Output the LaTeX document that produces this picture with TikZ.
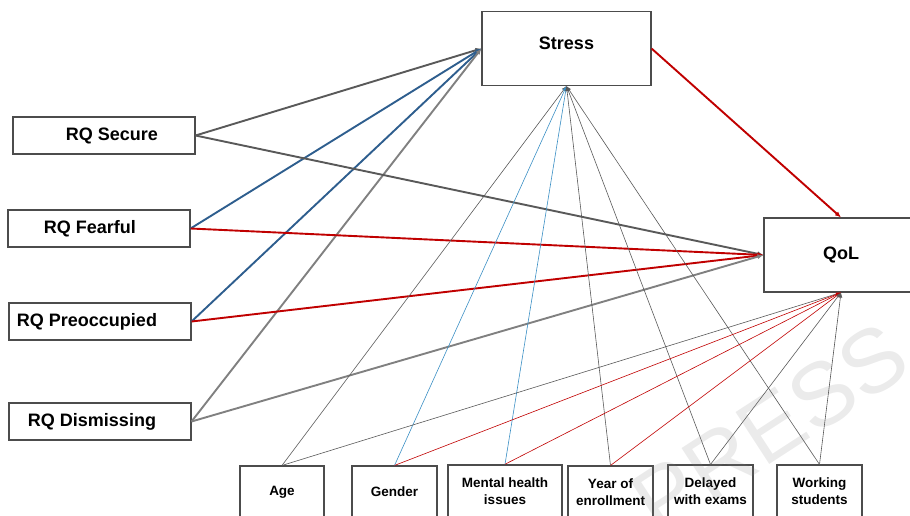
\documentclass[tikz,border=0pt]{standalone}
\usepackage{fontspec}
\setmainfont{Liberation Sans}
\usepackage{xcolor}
\usepackage{tikz}
\usetikzlibrary{arrows.meta, positioning}
\definecolor{pathgray}{HTML}{595959}
\definecolor{pathblue}{HTML}{2E5E8E}
\definecolor{pathred}{HTML}{C00000}
\definecolor{lightblue}{HTML}{3A8FC4}

\begin{document}
\begin{tikzpicture}[
    x=1pt, y=-1pt,
    box/.style={rectangle, draw=black!70, line width=1.1pt, fill=white, inner sep=0pt, font=\fontsize{18}{20}\selectfont\bfseries},
    rqbox/.style={box, minimum width=182, minimum height=37},
    covbox/.style={box, minimum width=85, minimum height=52, align=center, font=\fontsize{13.5}{17.5}\selectfont\bfseries},
    thickln/.style={line width=1.9pt, -{Latex[length=6pt,width=5pt]}},
    thinln/.style={line width=0.6pt, -{Latex[length=5pt,width=4pt]}}
]
\useasboundingbox (0,0) rectangle (910,516);
\clip (0,0) rectangle (910,516);

% -- MAIN CONSTRUCTS --
\node[box, minimum width=169, minimum height=74] (stress) at (566.5,48.5) {\raisebox{11pt}{Stress}};
\node[box, minimum width=154, minimum height=74] (qol) at (841,255) {\raisebox{-10pt}{QoL}};

% -- ATTACHMENT STYLES (left column) --
\node[rqbox] (secure) at (104,135.5) {\hspace*{16pt}RQ Secure};
\node[rqbox] (fearful) at (99,228.5) {RQ Fearful\hspace*{18pt}};
\node[rqbox] (preocc) at (100,321.5) {RQ Preoccupied\hspace*{26pt}};
\node[rqbox] (dismiss) at (100,421.5) {RQ Dismissing\hspace*{16pt}};

% -- COVARIATES (bottom row) --
\node[covbox, minimum width=84] (age) at (282,492) {Age};
\node[covbox] (gender) at (394.5,492) {Gender};
\node[covbox, minimum width=114, line width=1.5pt] (mental) at (505,491) {Mental health\\issues};
\node[covbox] (year) at (610.5,492) {Year of\\enrollment};
\node[covbox] (delayed) at (710.5,491) {Delayed\\with exams};
\node[covbox] (working) at (819.5,491) {Working\\students};

% -- PATHS TO STRESS --
\draw[thickln, pathgray] (secure.east) -- (stress.west);
\draw[thickln, pathblue] (fearful.east) -- (stress.west);
\draw[thickln, pathblue] (preocc.east) -- (stress.west);
\draw[thickln, gray] (dismiss.east) -- (stress.west);

% -- PATHS TO QOL --
\draw[thickln, pathgray] (secure.east) -- (qol.west);
\draw[thickln, pathred] (fearful.east) -- (qol.west);
\draw[thickln, pathred] (preocc.east) -- (qol.west);
\draw[thickln, gray] (dismiss.east) -- (qol.west);
\draw[thickln, pathred] (stress.east) -- (qol.north);

% -- COVARIATES -> STRESS --
\draw[thinln, black!65] (age.north) -- (stress.south);
\draw[thinln, lightblue] (gender.north) -- (stress.south);
\draw[thinln, lightblue] (mental.north) -- (stress.south);
\draw[thinln, black!65] (year.north) -- (stress.south);
\draw[thinln, black!65] (delayed.north) -- (stress.south);
\draw[thinln, black!65] (working.north) -- (stress.south);

% -- COVARIATES -> QOL --
\draw[thinln, black!65] (age.north) -- (qol.south);
\draw[thinln, pathred] (gender.north) -- (qol.south);
\draw[thinln, pathred] (mental.north) -- (qol.south);
\draw[thinln, pathred] (year.north) -- (qol.south);
\draw[thinln, black!65] (delayed.north) -- (qol.south);
\draw[thinln, black!65] (working.north) -- (qol.south);

% watermark
\node[rotate=33, font=\fontsize{90}{90}\selectfont, color=gray, opacity=0.16] (mark) at (770,428) {PRESS};

\end{tikzpicture}
\end{document}
